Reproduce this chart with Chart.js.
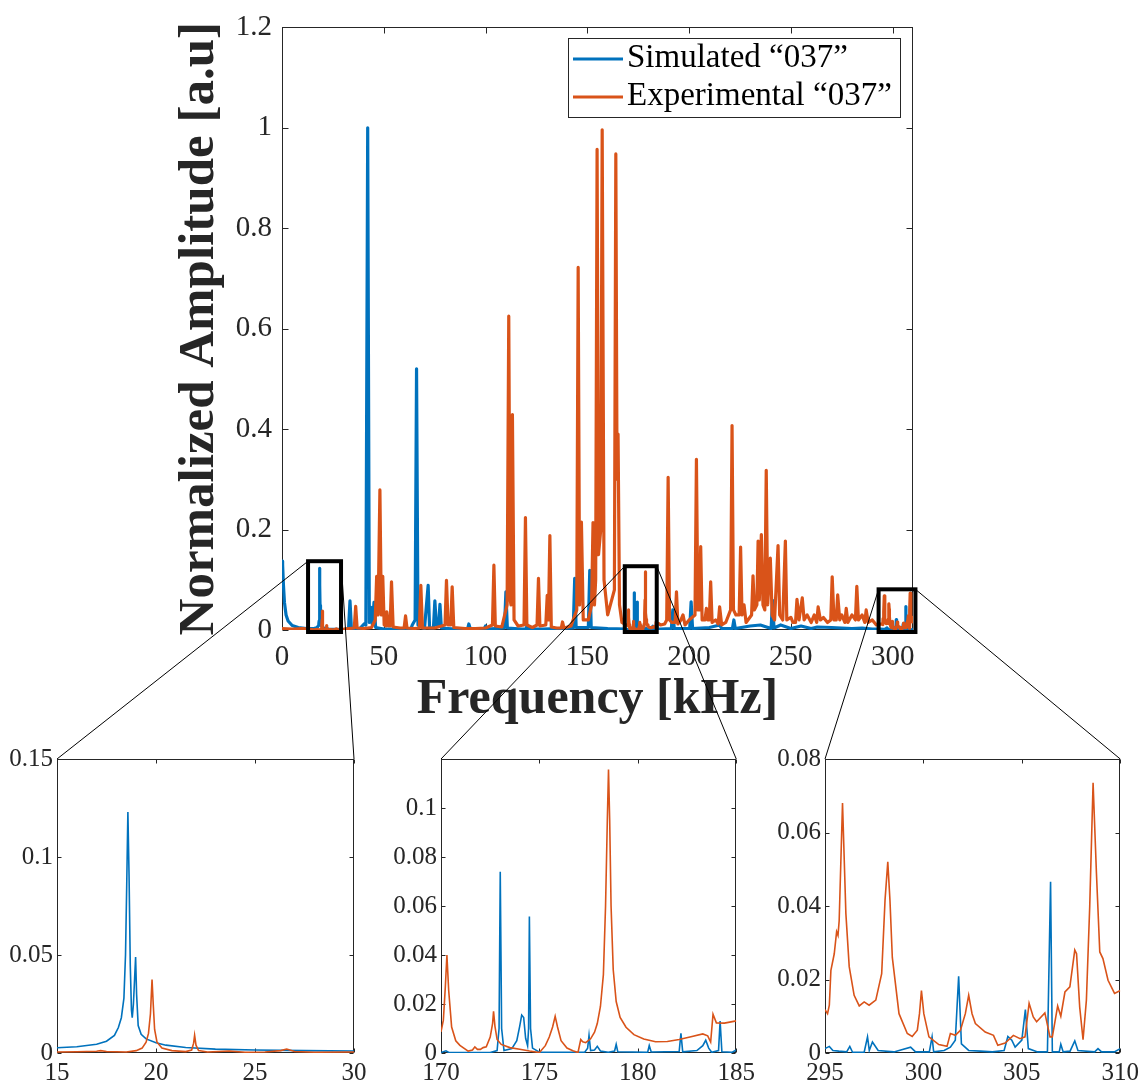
<!DOCTYPE html>
<html>
<head>
<meta charset="utf-8">
<script src="https://cdn.jsdelivr.net/npm/chart.js@4.4.1/dist/chart.umd.min.js"></script>
<style>
  html, body { margin: 0; padding: 0; background: #fff; overflow: hidden; }
  #lienzo { position: relative; width: 1144px; height: 1084px; }
  #lienzo canvas { position: absolute; }
</style>
</head>
<body>
<div id="lienzo">
  <canvas id="principal" width="1144" height="740" style="left:0;top:0"></canvas>
  <canvas id="zoom1" width="376" height="344" style="left:0;top:740px"></canvas>
  <canvas id="zoom2" width="376" height="344" style="left:384px;top:740px"></canvas>
  <canvas id="zoom3" width="376" height="344" style="left:768px;top:740px"></canvas>
  <canvas id="capa" width="1144" height="1084" style="left:0;top:0;pointer-events:none"></canvas>
</div>
<script>
// ---- datos (frecuencia en kHz, amplitud normalizada) ----

// espectro simulado fuera de las zonas ampliadas
const simFreq = [0, 0.3, 0.7, 1.2, 2, 3, 5, 8, 12,
  30.5, 32.7, 33.4, 34.1, 38, 40.3, 41.2, 42.1, 42.9, 43.7, 44.4, 45.2, 46, 50, 60,
  63.3, 64, 65.4, 66.1, 66.8, 70, 71.8, 72.5, 74.4, 75.1, 75.8, 76.9, 77.6, 78.3,
  85, 91.2, 91.8, 92.5, 99.3, 100, 100.7, 109.3, 110, 110.7, 118, 119.9, 120.5, 121.2,
  128, 143.1, 143.8, 144.5, 150.5, 151.2, 151.9, 160, 169,
  186, 191.3, 192, 192.7, 200.3, 201, 201.7, 210, 215, 216, 221.3, 222, 222.7,
  230, 235, 240.3, 241, 241.7, 245, 250, 255, 260, 263, 270, 280, 285, 290, 294];
const simAmp = [0.137, 0.13, 0.09, 0.055, 0.03, 0.018, 0.009, 0.005, 0.003,
  0.001, 0.003, 0.058, 0.003, 0.002, 0.012, 0.01, 1.0, 0.015, 0.045, 0.01, 0.055, 0.005, 0.002, 0.002,
  0.002, 0.01, 0.02, 0.52, 0.01, 0.003, 0.089, 0.004, 0.004, 0.058, 0.01, 0.008, 0.051, 0.004,
  0.002, 0.002, 0.012, 0.002, 0.002, 0.008, 0.002, 0.004, 0.076, 0.004, 0.002, 0.002, 0.01, 0.002,
  0.002, 0.004, 0.103, 0.005, 0.005, 0.119, 0.005, 0.003, 0.002,
  0.002, 0.003, 0.04, 0.003, 0.003, 0.056, 0.003, 0.005, 0.01, 0.003, 0.003, 0.02, 0.003,
  0.008, 0.01, 0.003, 0.059, 0.004, 0.01, 0.003, 0.008, 0.003, 0.006, 0.005, 0.003, 0.004, 0.002, 0.002];

// espectro experimental fuera de las zonas ampliadas
const expFreq = [0, 5, 10, 14.9,
  30.5, 35.5, 36.2, 36.9, 40, 44, 45.8, 46.5, 47.2, 48.1, 48.8, 49.5, 50.2, 51, 51.5, 52.3, 53.1, 53.8, 54.6, 58,
  60, 60.7, 61.4, 65, 67.5, 68.2, 69, 75, 80.1, 80.8, 81.6, 82.9, 83.6, 84.4, 90, 95, 100, 103.4, 104.1, 104.8,
  108, 110.6, 111.4, 112.1, 112.5, 113.2, 114, 116, 118.9, 119.6, 120.3, 123, 125.3, 126, 126.7, 129.6, 130.3, 130.9, 131.6, 132.3,
  135, 137.2, 137.8, 138.5, 142, 144.8, 145.5, 146.2, 147.1, 148, 150.5, 152.1, 152.8, 153.5, 154.1, 154.8, 155.5, 156.6, 157.3, 158.2,
  160, 163.3, 164, 164.6, 165.1, 165.8, 167, 169,
  186, 188, 189, 189.7, 190.4, 191.5, 193.1, 193.8, 194.5, 196, 197, 198, 200, 202.9, 203.6, 204.3, 205, 205.7, 206.4, 207.8,
  208.5, 209.2, 209.9, 210.6, 211.3, 213, 214.3, 215, 216, 218, 220.4, 221.1, 221.8, 223, 224.6, 225.3, 226, 227, 228, 230.7,
  231.4, 232.1, 233.3, 233.9, 234.5, 235.5, 236.3, 237.2, 237.9, 238.6, 239.9, 240.8, 242, 243.7, 244.5, 246, 247.3, 248, 250, 251,
  252.3, 253, 254, 255.6, 256.5, 258, 260, 261.5, 262.7, 263.4, 264.5, 266, 268, 269.6, 270.3, 271.2, 272.3, 273, 274, 275,
  276.5, 277.2, 278, 280, 281.7, 282.4, 283.2, 285, 286.3, 287, 288, 290, 292, 294];
const expAmp = [0.003, 0.002, 0.003, 0.001,
  0.002, 0.004, 0.047, 0.004, 0.003, 0.005, 0.02, 0.107, 0.03, 0.279, 0.03, 0.107, 0.01, 0.008, 0.036, 0.008, 0.008, 0.096, 0.006, 0.004,
  0.004, 0.028, 0.004, 0.003, 0.004, 0.089, 0.004, 0.004, 0.01, 0.099, 0.01, 0.01, 0.086, 0.005, 0.003, 0.003, 0.004, 0.01, 0.129, 0.008,
  0.006, 0.05, 0.625, 0.06, 0.05, 0.429, 0.02, 0.008, 0.01, 0.224, 0.01, 0.005, 0.01, 0.103, 0.008, 0.01, 0.069, 0.02, 0.188, 0.006,
  0.004, 0.004, 0.016, 0.004, 0.008, 0.04, 0.722, 0.05, 0.215, 0.02, 0.02, 0.05, 0.214, 0.05, 0.1, 0.957, 0.15, 0.2, 0.996, 0.1,
  0.03, 0.08, 0.948, 0.3, 0.39, 0.05, 0.015, 0.01,
  0.01, 0.012, 0.02, 0.304, 0.02, 0.015, 0.015, 0.076, 0.012, 0.02, 0.03, 0.01, 0.02, 0.03, 0.34, 0.04, 0.04, 0.166, 0.02, 0.02,
  0.043, 0.02, 0.02, 0.096, 0.015, 0.02, 0.012, 0.046, 0.01, 0.015, 0.04, 0.407, 0.04, 0.03, 0.03, 0.165, 0.03, 0.05, 0.015, 0.03,
  0.108, 0.04, 0.05, 0.177, 0.06, 0.19, 0.05, 0.04, 0.318, 0.05, 0.143, 0.03, 0.02, 0.168, 0.03, 0.02, 0.177, 0.02, 0.025, 0.015,
  0.015, 0.061, 0.02, 0.064, 0.02, 0.03, 0.015, 0.03, 0.015, 0.046, 0.02, 0.025, 0.015, 0.02, 0.106, 0.02, 0.02, 0.07, 0.02, 0.03,
  0.015, 0.043, 0.015, 0.03, 0.02, 0.087, 0.02, 0.03, 0.015, 0.04, 0.015, 0.02, 0.01, 0.012];

// zona 1: 15 - 30 kHz
const sim1F = [15, 16, 17, 17.5, 17.9, 18.1, 18.25, 18.38, 18.46, 18.52,
  18.58, 18.64, 18.7, 18.76, 18.8, 18.86, 18.92, 18.97, 19.02, 19.1,
  19.25, 19.5, 20, 20.5, 21.5, 23, 25, 27.5, 30];
const sim1A = [0.0027, 0.0032, 0.0045, 0.006, 0.009, 0.013, 0.018, 0.028, 0.05, 0.085,
  0.123, 0.09, 0.045, 0.022, 0.018, 0.025, 0.038, 0.049, 0.03, 0.014,
  0.0095, 0.0072, 0.0052, 0.004, 0.0028, 0.002, 0.0015, 0.0012, 0.001];
const exp1F = [15, 16, 17, 17.2, 17.5, 18.5, 19, 19.3, 19.5, 19.62,
  19.72, 19.8, 19.86, 19.93, 20.05, 20.3, 20.8, 21.5, 21.8, 21.9,
  21.95, 22.02, 22.15, 22.6, 23.7, 24.5, 25.5, 26.3, 26.6, 27,
  28, 30];
const exp1A = [0.0005, 0.0006, 0.0009, 0.0012, 0.0008, 0.0005, 0.0012, 0.0025, 0.0055, 0.01,
  0.02, 0.0375, 0.025, 0.012, 0.0055, 0.0025, 0.0012, 0.0007, 0.0015, 0.005,
  0.009, 0.004, 0.0012, 0.0005, 0.001, 0.0004, 0.0005, 0.0012, 0.002, 0.0008,
  0.0004, 0.0005];

// zona 2: 170 - 185 kHz
const sim2F = [170, 170.25, 170.4, 172.5, 172.85, 172.95, 173.01, 173.08, 173.2, 173.6,
  173.85, 174.0, 174.1, 174.2, 174.3, 174.4, 174.45, 174.49, 174.55, 174.65,
  175, 177.3, 177.45, 177.52, 177.6, 177.8, 177.94, 178.1, 178.5, 178.82,
  178.9, 178.98, 180.5, 180.58, 180.68, 182.1, 182.19, 182.28, 183, 183.3,
  183.45, 183.6, 183.75, 184.1, 184.18, 184.27, 184.8, 185];
const sim2A = [0.0002, 0.0009, 0.0002, 0.0002, 0.001, 0.01, 0.074, 0.01, 0.001, 0.0018,
  0.005, 0.011, 0.0155, 0.0145, 0.006, 0.003, 0.01, 0.0557, 0.01, 0.002,
  0.0003, 0.0003, 0.002, 0.0072, 0.001, 0.0012, 0.0027, 0.0008, 0.0003, 0.0008,
  0.0035, 0.0005, 0.0003, 0.003, 0.0004, 0.0006, 0.008, 0.0005, 0.001, 0.003,
  0.0052, 0.002, 0.0003, 0.001, 0.013, 0.0005, 0.0003, 0.0012];
const exp2F = [170, 170.12, 170.22, 170.3, 170.39, 170.54, 170.75, 170.96, 171.38, 171.6,
  171.72, 171.85, 172.0, 172.14, 172.3, 172.5, 172.62, 172.67, 172.74, 172.85,
  173.06, 173.5, 174.0, 174.5, 175, 175.3, 175.5, 175.67, 175.8, 175.92,
  176.1, 176.4, 176.7, 176.96, 177.1, 177.2, 177.35, 177.6, 177.8, 177.94,
  178.1, 178.25, 178.36, 178.45, 178.51, 178.57, 178.64, 178.75, 178.9, 179.1,
  179.4, 179.8, 180.3, 180.9, 181.5, 182.1, 182.7, 183.3, 183.55, 183.7,
  183.82, 183.99, 184.4, 185];
const exp2A = [0.0086, 0.0134, 0.027, 0.040, 0.0256, 0.0106, 0.005, 0.0031, 0.0008, 0.0012,
  0.0025, 0.0015, 0.0015, 0.0022, 0.0025, 0.0065, 0.012, 0.017, 0.011, 0.0055,
  0.0035, 0.0022, 0.0015, 0.0008, 0.0002, 0.003, 0.0065, 0.0106, 0.015, 0.0106,
  0.005, 0.002, 0.0009, 0.0002, 0.0055, 0.0046, 0.0042, 0.0058, 0.0085, 0.012,
  0.019, 0.032, 0.06, 0.095, 0.1157, 0.095, 0.06, 0.034, 0.021, 0.0145,
  0.0105, 0.0075, 0.0057, 0.0046, 0.0047, 0.0055, 0.0066, 0.0078, 0.007, 0.0045,
  0.0158, 0.0123, 0.0122, 0.0131];

// zona 3: 295 - 310 kHz
const sim3F = [295, 295.22, 295.4, 295.7, 296.1, 296.26, 296.4, 296.99, 297.16, 297.25,
  297.41, 297.7, 298.5, 299.35, 299.6, 300.3, 300.44, 300.52, 301.05, 301.37,
  301.62, 301.79, 301.93, 302.3, 302.9, 303.5, 304.1, 304.29, 304.49, 304.66,
  305.0, 305.18, 305.33, 305.8, 306.3, 306.46, 306.55, 306.9, 306.98, 307.1,
  307.45, 307.69, 307.85, 308.7, 308.87, 309.05, 309.7, 310];
const sim3A = [0.0012, 0.0018, 0.0007, 0.0005, 0.0003, 0.0018, 0.0002, 0.0002, 0.0044, 0.0007,
  0.003, 0.0007, 0.0003, 0.0016, 0.0003, 0.0003, 0.0044, 0.0003, 0.0007, 0.0016,
  0.0035, 0.0209, 0.0025, 0.0007, 0.0005, 0.0003, 0.0007, 0.0045, 0.0035, 0.0016,
  0.0035, 0.0118, 0.0012, 0.0003, 0.0003, 0.0466, 0.0003, 0.0003, 0.0024, 0.0003,
  0.0005, 0.0033, 0.0007, 0.0003, 0.0012, 0.0003, 0.0003, 0.0012];
const exp3F = [295, 295.13, 295.22, 295.3, 295.47, 295.59, 295.66, 295.72, 295.89, 296.06,
  296.23, 296.48, 296.74, 296.99, 297.24, 297.58, 297.88, 298.05, 298.19, 298.3,
  298.42, 298.76, 299.18, 299.43, 299.69, 299.8, 299.9, 300.02, 300.28, 300.78,
  301.2, 301.37, 301.62, 301.88, 302.13, 302.3, 302.47, 302.64, 303.14, 303.56,
  303.78, 304.15, 304.57, 304.91, 305.16, 305.37, 305.58, 305.75, 306.17, 306.43,
  306.55, 306.82, 306.98, 307.19, 307.44, 307.69, 307.78, 307.94, 308.11, 308.28,
  308.45, 308.62, 308.79, 308.96, 309.12, 309.38, 309.71, 310];
const exp3A = [0.0118, 0.0107, 0.013, 0.0225, 0.027, 0.033, 0.032, 0.036, 0.068, 0.038,
  0.0235, 0.0157, 0.0128, 0.0139, 0.013, 0.0144, 0.0216, 0.0416, 0.052, 0.0416,
  0.026, 0.0107, 0.0053, 0.0045, 0.0062, 0.0107, 0.017, 0.0107, 0.0044, 0.0023,
  0.0018, 0.0053, 0.0048, 0.0062, 0.0107, 0.0157, 0.0107, 0.008, 0.0057, 0.0048,
  0.0021, 0.0027, 0.0048, 0.0039, 0.0044, 0.0135, 0.0098, 0.0085, 0.0109, 0.0044,
  0.0044, 0.0128, 0.01, 0.0166, 0.018, 0.028, 0.027, 0.0125, 0.0036, 0.0144,
  0.04, 0.0735, 0.049, 0.0275, 0.0257, 0.0198, 0.0162, 0.017];

// marcas de los ejes
const ticksX = [0, 50, 100, 150, 200, 250, 300];
const ticksY = [0, 0.2, 0.4, 0.6, 0.8, 1, 1.2];
const zoomTicksX = [[15, 20, 25, 30], [170, 175, 180, 185], [295, 300, 305, 310]];
const zoomTicksY = [[0, 0.05, 0.1, 0.15], [0, 0.02, 0.04, 0.06, 0.08, 0.1], [0, 0.02, 0.04, 0.06, 0.08]];
const zoomRangoX = [[15, 30], [170, 185], [295, 310]];
const zoomRangoY = [0.15, 0.12, 0.08];

// recuadros dibujados sobre la grafica principal (en unidades de datos)
const recuadros = [
  { x0: 12.8, x1: 29.0, y0: -0.004, y1: 0.137 },
  { x0: 168.4, x1: 184.1, y0: -0.004, y1: 0.127 },
  { x0: 293.1, x1: 311.2, y0: -0.004, y1: 0.081 }
];

const etiquetas = ['Simulated \u201C037\u201D', 'Experimental \u201C037\u201D'];
const AZUL = '#0072BD';
const NARANJA = '#D95319';
const GRIS = '#262626';

Chart.defaults.font.family = "'Liberation Serif', serif";
Chart.defaults.color = GRIS;

function serie(f, a) { return f.map((x, i) => ({ x: x, y: a[i] })); }
function unir(...partes) { return partes.flat().sort((p, q) => p.x - q.x); }
function formato(v) { return String(+Number(v).toFixed(3)); }

// caja y marcas hacia adentro, estilo matlab
const marco = {
  id: 'marco',
  beforeDatasetsDraw(chart, args, opts) {
    const { ctx, chartArea: a, scales } = chart;
    const L = Math.round(a.left) + 0.5, R = Math.round(a.right) - 0.5;
    const T = Math.round(a.top) + 0.5, B = Math.round(a.bottom) - 0.5;
    ctx.save();
    ctx.strokeStyle = GRIS;
    ctx.lineWidth = 1;
    ctx.strokeRect(L, T, R - L, B - T);
    ctx.beginPath();
    scales.x.ticks.forEach(t => {
      const px = Math.round(scales.x.getPixelForValue(t.value)) + 0.5;
      ctx.moveTo(px, B); ctx.lineTo(px, B - opts.largo);
      ctx.moveTo(px, T); ctx.lineTo(px, T + opts.largo);
    });
    scales.y.ticks.forEach(t => {
      const py = Math.round(scales.y.getPixelForValue(t.value)) + 0.5;
      ctx.moveTo(L, py); ctx.lineTo(L + opts.largo, py);
      ctx.moveTo(R, py); ctx.lineTo(R - opts.largo, py);
    });
    ctx.stroke();
    ctx.restore();
  }
};

// recuadros negros y leyenda de la grafica principal
const extras = {
  id: 'extras',
  afterDraw(chart) {
    const { ctx, scales: { x, y } } = chart;
    ctx.save();
    ctx.strokeStyle = '#000';
    ctx.lineWidth = 4;
    recuadros.forEach(b => {
      const x0 = x.getPixelForValue(b.x0), x1 = x.getPixelForValue(b.x1);
      const y0 = y.getPixelForValue(b.y0), y1 = y.getPixelForValue(b.y1);
      ctx.strokeRect(x0, y1, x1 - x0, y0 - y1);
    });

    // leyenda
    ctx.fillStyle = '#fff';
    ctx.fillRect(568.5, 38.5, 332, 79);
    ctx.strokeStyle = GRIS;
    ctx.lineWidth = 1;
    ctx.strokeRect(568.5, 38.5, 332, 79);
    ctx.font = "33px 'Liberation Serif', serif";
    ctx.textBaseline = 'alphabetic';
    ctx.textAlign = 'left';
    chart.data.datasets.forEach((ds, i) => {
      const fila = 59 + i * 38;
      ctx.strokeStyle = ds.borderColor;
      ctx.lineWidth = 3;
      ctx.beginPath();
      ctx.moveTo(573, fila); ctx.lineTo(623, fila);
      ctx.stroke();
      ctx.fillStyle = '#000';
      ctx.fillText(ds.label, 627, fila + 8);
    });
    ctx.restore();
  }
};

const principal = new Chart(document.getElementById('principal').getContext('2d'), {
  type: 'line',
  data: {
    datasets: [
      {
        label: etiquetas[0],
        data: unir(serie(simFreq, simAmp), serie(sim1F, sim1A), serie(sim2F, sim2A), serie(sim3F, sim3A)),
        borderColor: AZUL, borderWidth: 3.2, pointRadius: 0, order: 1,
        borderJoinStyle: 'round', borderCapStyle: 'round'
      },
      {
        label: etiquetas[1],
        data: unir(serie(expFreq, expAmp), serie(exp1F, exp1A), serie(exp2F, exp2A), serie(exp3F, exp3A)),
        borderColor: NARANJA, borderWidth: 3.2, pointRadius: 0, order: 0,
        borderJoinStyle: 'round', borderCapStyle: 'round'
      }
    ]
  },
  options: {
    responsive: false,
    animation: false,
    layout: { padding: { left: 0, right: 231, top: 24, bottom: 0 } },
    plugins: { legend: { display: false }, tooltip: { enabled: false }, marco: { largo: 6 } },
    scales: {
      x: {
        type: 'linear', min: 0, max: 310,
        grid: { display: false, drawTicks: false }, border: { display: false },
        afterBuildTicks: s => { s.ticks = ticksX.map(v => ({ value: v })); },
        afterFit: s => { s.height = 110; },
        ticks: { padding: 10, font: { size: 29 }, color: GRIS, maxRotation: 0, callback: formato },
        title: { display: true, text: 'Frequency [kHz]', color: GRIS, padding: { top: 0, bottom: 10 },
          font: { size: 50, weight: 'bold' } }
      },
      y: {
        min: 0, max: 1.2,
        grid: { display: false, drawTicks: false }, border: { display: false },
        afterBuildTicks: s => { s.ticks = ticksY.map(v => ({ value: v })); },
        afterFit: s => { s.width = 282; },
        ticks: { padding: 10, font: { size: 29 }, color: GRIS, callback: formato },
        title: { display: true, text: 'Normalized Amplitude [a.u]', color: GRIS, padding: { top: 169, bottom: 0 },
          font: { size: 51, weight: 'bold' } }
      }
    }
  },
  plugins: [marco, extras]
});

const datosZoom = [
  [serie(sim1F, sim1A), serie(exp1F, exp1A)],
  [serie(sim2F, sim2A), serie(exp2F, exp2A)],
  [serie(sim3F, sim3A), serie(exp3F, exp3A)]
];

const zooms = datosZoom.map((d, i) => new Chart(document.getElementById('zoom' + (i + 1)).getContext('2d'), {
  type: 'line',
  data: {
    datasets: [
      { label: etiquetas[0], data: d[0], borderColor: AZUL, borderWidth: 1.6, pointRadius: 0, order: 1 },
      { label: etiquetas[1], data: d[1], borderColor: NARANJA, borderWidth: 1.6, pointRadius: 0, order: 0 }
    ]
  },
  options: {
    responsive: false,
    animation: false,
    layout: { padding: { left: 0, right: 22, top: 19, bottom: 0 } },
    plugins: { legend: { display: false }, tooltip: { enabled: false }, marco: { largo: 4 } },
    scales: {
      x: {
        type: 'linear', min: zoomRangoX[i][0], max: zoomRangoX[i][1],
        grid: { display: false, drawTicks: false }, border: { display: false },
        afterBuildTicks: s => { s.ticks = zoomTicksX[i].map(v => ({ value: v })); },
        afterFit: s => { s.height = 31; },
        ticks: { padding: 5, font: { size: 25 }, color: GRIS, maxRotation: 0, callback: formato }
      },
      y: {
        min: 0, max: zoomRangoY[i],
        grid: { display: false, drawTicks: false }, border: { display: false },
        afterBuildTicks: s => { s.ticks = zoomTicksY[i].map(v => ({ value: v })); },
        afterFit: s => { s.width = 57; },
        ticks: { padding: 4, font: { size: 25 }, color: GRIS, callback: formato }
      }
    }
  },
  plugins: [marco]
}));

// lineas que unen cada recuadro con su ampliacion
const capa = document.getElementById('capa').getContext('2d');
capa.strokeStyle = '#000';
capa.lineWidth = 1;
recuadros.forEach((b, i) => {
  const z = zooms[i];
  const cv = z.canvas;
  const ax = principal.scales.x, ay = principal.scales.y;
  const yTop = ay.getPixelForValue(b.y1);
  const zl = cv.offsetLeft + z.chartArea.left, zr = cv.offsetLeft + z.chartArea.right;
  const zt = cv.offsetTop + z.chartArea.top;
  capa.beginPath();
  capa.moveTo(ax.getPixelForValue(b.x0), yTop); capa.lineTo(zl, zt);
  capa.moveTo(ax.getPixelForValue(b.x1), yTop); capa.lineTo(zr, zt);
  capa.stroke();
});
</script>
</body>
</html>
